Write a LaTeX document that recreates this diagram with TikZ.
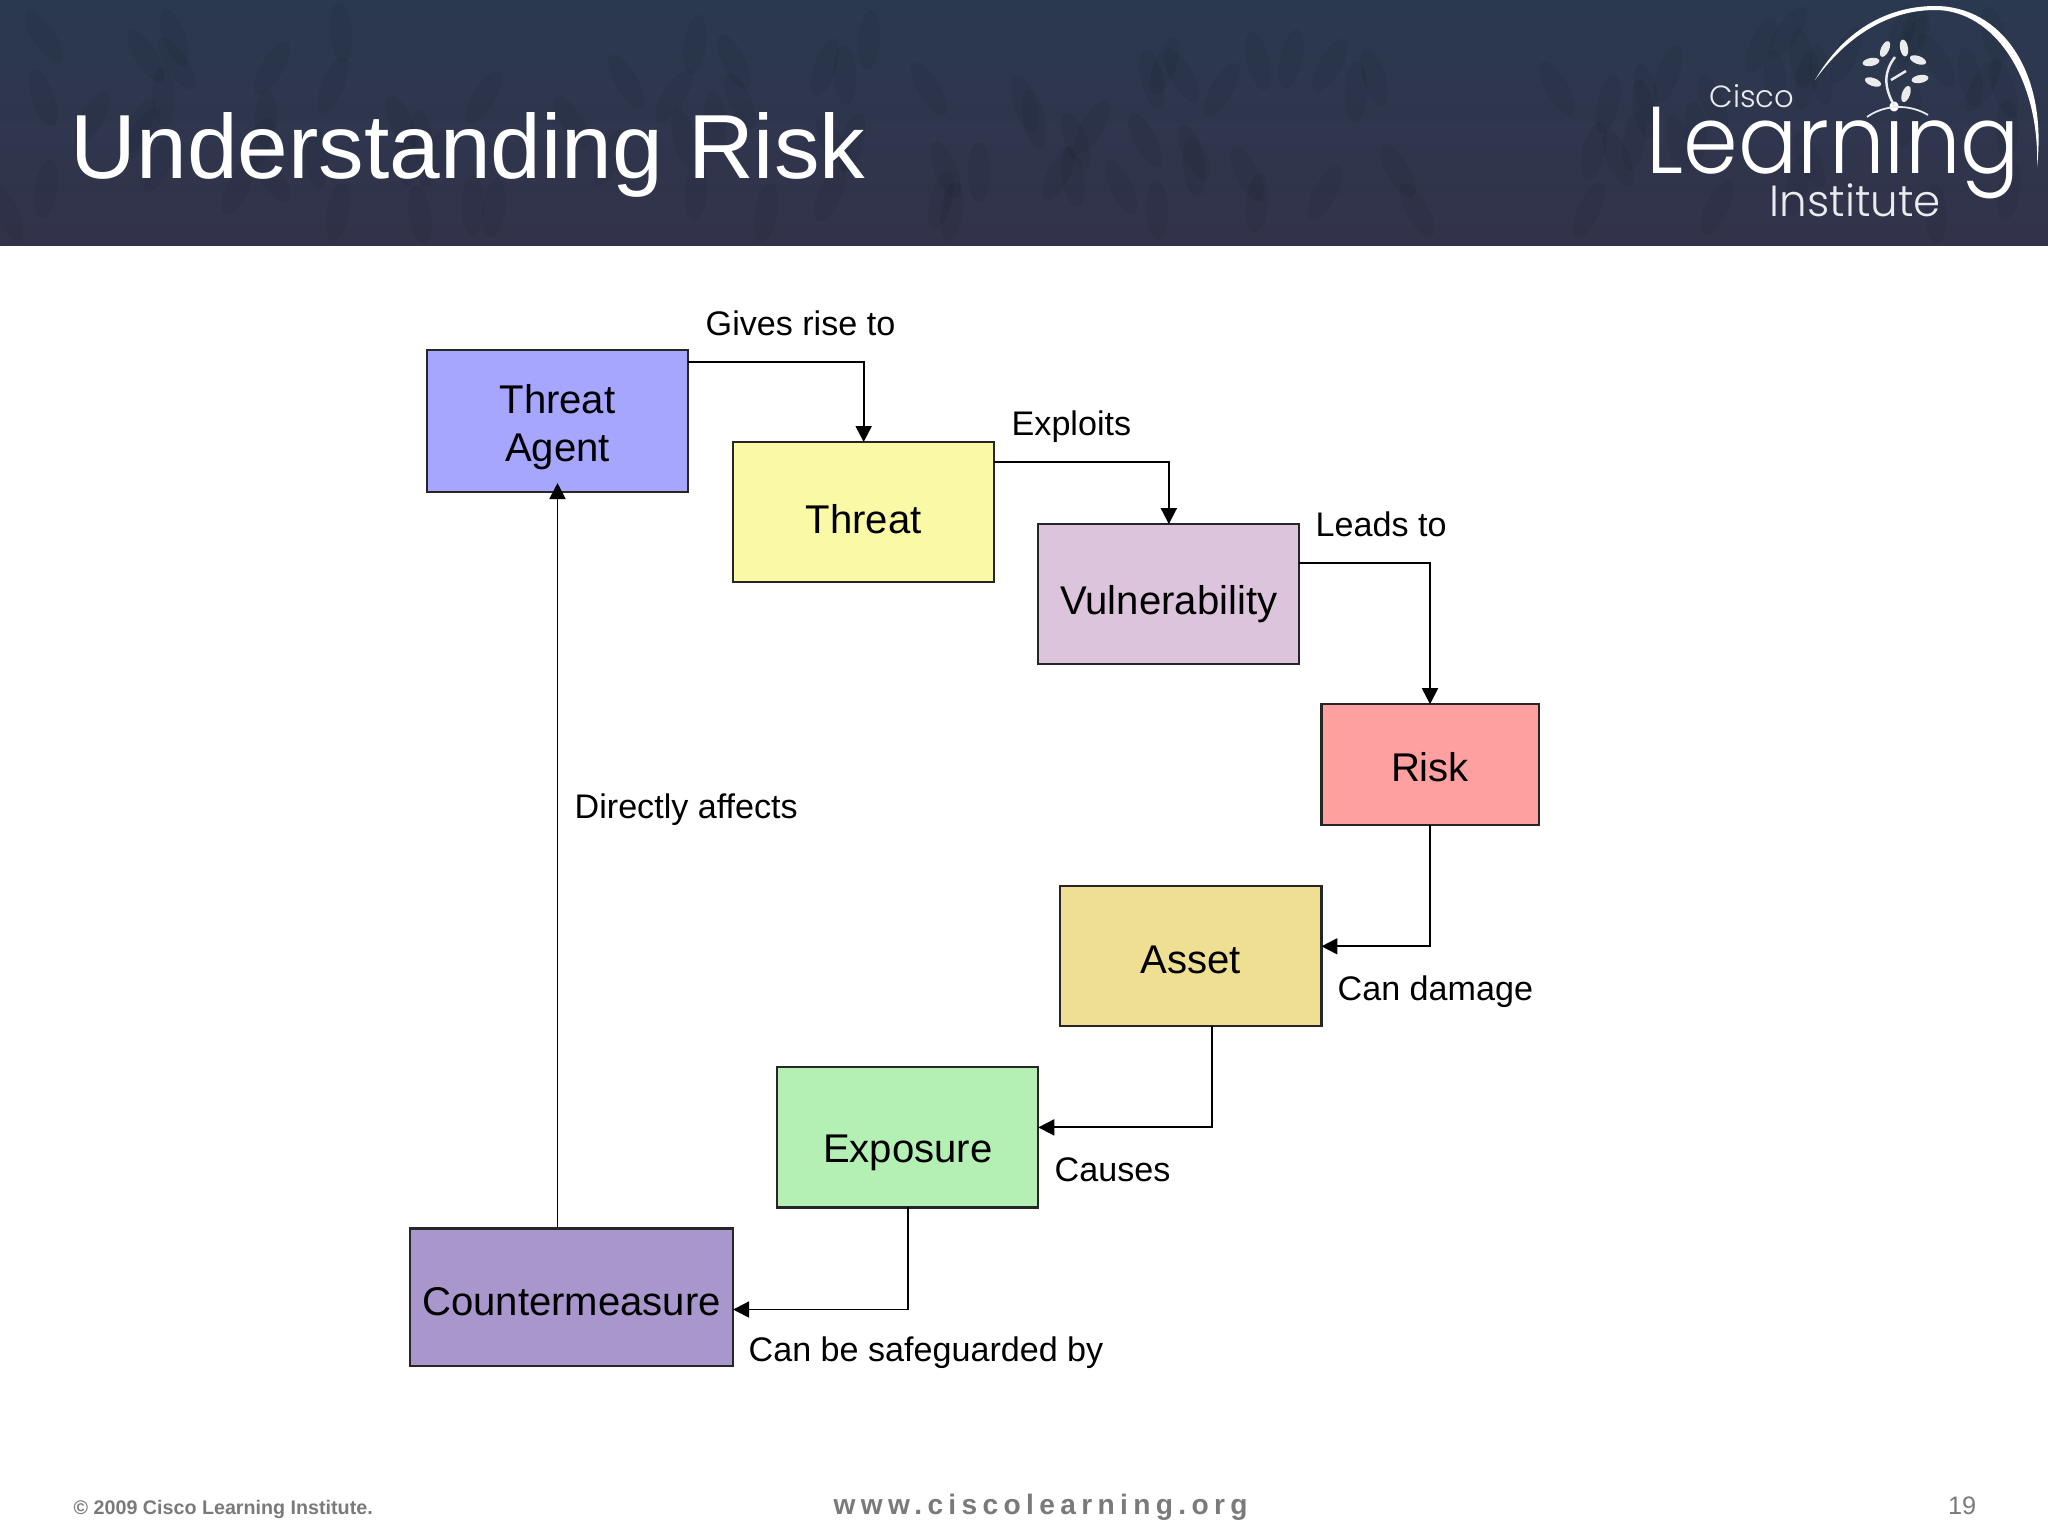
\documentclass[tikz,border=0pt]{standalone}
\usepackage{fontspec}
\usetikzlibrary{positioning, arrows.meta, shapes.geometric}
\setmainfont{Liberation Sans}
\newfontfamily\logofont[FakeStretch=.925]{Poppins Light}
\newfontfamily\logosmall{Poppins Light}
\newfontfamily\urlfont[LetterSpace=19]{Liberation Sans}
\definecolor{headertop}{HTML}{2B3950}
\definecolor{headerlow}{HTML}{32334A}
\definecolor{footgray}{HTML}{7A7A7A}
\tikzset{
	>={Triangle[length=.16cm,width=.16cm]}, % makes the arrow heads solid
	box/.style={draw=black!85, line width=.6pt, outer sep=0pt, font=\fontsize{11.4}{13.6}\selectfont, align=center, inner sep=0pt, minimum width=2.61cm, minimum height=1.40cm}, % sets the properties for each box
	drop/.style={text height=#1, text depth=0pt}, % lowers the text inside a box
	link/.style={draw=black, line width=.55pt, ->}, % sets the properties for each connector
	tag/.style={anchor=base west, inner sep=0pt, font=\fontsize{9.7}{11}\selectfont}, % sets the properties for connector labels
	leaf/.style={fill=white!90!headertop, ellipse, inner sep=0pt, minimum width=.17cm, minimum height=.08cm},
}

\begin{document}
\begin{tikzpicture}[x=.01cm, y=-.01cm]
	\useasboundingbox (0,0) rectangle (2048,1536);
	\fill[white] (0,0) rectangle (2048,1536);
	\shade[top color=headertop, bottom color=headerlow] (0,0) rectangle (2048,245);
	% faint mottling of the banner
	\pgfmathsetseed{19}
	\foreach \i in {1,...,110}{
		\pgfmathsetmacro{\px}{random(0,2048)}
		\pgfmathsetmacro{\py}{random(30,215)}
		\pgfmathsetmacro{\pr}{random(55,125)}
		\fill[black, opacity=.05, rotate around={\pr:(\px,\py)}] (\px,\py) ellipse (30 and 11);
	}

	\node[anchor=base west, inner sep=0pt, text=white, font=\fontsize{25.9}{30}\selectfont] (title) at (70,178) {Understanding Risk};

	% logo
	\fill[white] (1815,80) .. controls (1850,20) and (1900,6) .. (1935,6) .. controls (2000,6) and (2048,70) .. (2037,167) .. controls (2040,80) and (1995,10) .. (1935,10) .. controls (1900,10) and (1855,25) .. (1815,80);
	\node[anchor=base west, inner sep=0pt, text=white!90!headertop, font=\logosmall\fontsize{8.7}{9}\selectfont] (cisco) at (1709,107) {Cisco};
	\node[anchor=base west, inner sep=0pt, text=white, font=\logofont\fontsize{27}{27}\selectfont] (learning) at (1646,173) {Learning};
	\node[anchor=base west, inner sep=0pt, text=white!90!headertop, font=\logosmall\fontsize{12.4}{13}\selectfont] (institute) at (1769,216) {Institute};
	\draw[white!90!headertop, line width=.7pt] (1895,107) .. controls (1882,85) and (1885,70) .. (1895,57) (1891,80) -- (1906,71);
	\draw[white!90!headertop, line width=.5pt] (1867,117) .. controls (1885,104) and (1910,104) .. (1928,115);
	\foreach \lx/\ly/\la in {1885/49/65, 1904/48/100, 1871/62/10, 1918/60/-20, 1873/82/-20, 1920/79/10, 1906/94/70}{
		\node[leaf, rotate=\la] (leaf\lx) at (\lx,\ly) {};
	}

	% boxes
	\node[box, fill={rgb,255:red,166;green,166;blue,255}, minimum height=1.42cm, text height=25.5pt, text depth=2.4pt] (agent) at (557.5,421) {Threat\\Agent};
	\node[box, drop=12.4pt, fill={rgb,255:red,250;green,249;blue,166}, below right=-.50cm and .45cm of agent.south east, anchor=north west] (threat) {Threat};
	\node[box, drop=11.5pt, fill={rgb,255:red,220;green,196;blue,220}, below right=-.58cm and .44cm of threat.south east, anchor=north west] (vuln) {Vulnerability};
	\node[box, drop=9.8pt, fill={rgb,255:red,255;green,160;blue,160}, below right=.40cm and .22cm of vuln.south east, anchor=north west, minimum width=2.17cm, minimum height=1.21cm] (risk) {Risk};
	\node[box, drop=9.8pt, fill={rgb,255:red,239;green,223;blue,146}, below left=.61cm and 0cm of risk.south west, anchor=north east] (asset) {Asset};
	\node[box, drop=14.5pt, fill={rgb,255:red,180;green,240;blue,180}, below left=.41cm and .22cm of asset.south west, anchor=north east] (expo) {Exposure};
	\node[box, drop=10.5pt, fill={rgb,255:red,169;green,150;blue,204}, below left=.21cm and .44cm of expo.south west, anchor=north east, minimum width=3.23cm, minimum height=1.37cm] (counter) {Countermeasure};

	% connectors
	\draw[link] ([yshift=-.12cm]agent.north east) -| (threat.north);
	\draw[link] ([yshift=-.20cm]threat.north east) -| (vuln.north);
	\draw[link] ([yshift=-.39cm]vuln.north east) -| (risk.north);
	\draw[link] (risk.south) |- ([yshift=-.60cm]asset.north east);
	\draw[link] ([xshift=1.52cm]asset.south west) |- ([yshift=-.60cm]expo.north east);
	\draw[link] (expo.south) |- ([yshift=-.81cm]counter.north east);
	\draw[link] (agent.south |- counter.north) -- ([yshift=.09cm]agent.south);

	% labels
	\node[tag] (rise) at (705,335.5) {Gives rise to};
	\node[tag] (exploits) at (1011,435.5) {Exploits};
	\node[tag] (leads) at (1315,536.5) {Leads to};
	\node[tag] (affects) at (574,818.5) {Directly affects};
	\node[tag] (damage) at (1337,1000.5) {Can damage};
	\node[tag] (causes) at (1054,1181.5) {Causes};
	\node[tag] (guard) at (748,1361.5) {Can be safeguarded by};

	% footer
	\node[anchor=base west, inner sep=0pt, text=footgray, font=\bfseries\fontsize{5.6}{7}\selectfont] (copy) at (73,1514) {© 2009 Cisco Learning Institute.};
	\node[anchor=base west, inner sep=0pt, text=footgray, font=\urlfont\bfseries\fontsize{8}{9}\selectfont] (url) at (833,1514) {www.ciscolearning.org};
	\node[anchor=base east, inner sep=0pt, text=footgray, font=\fontsize{7.2}{8}\selectfont] (page) at (1977,1514) {19};
\end{tikzpicture}
\end{document}
